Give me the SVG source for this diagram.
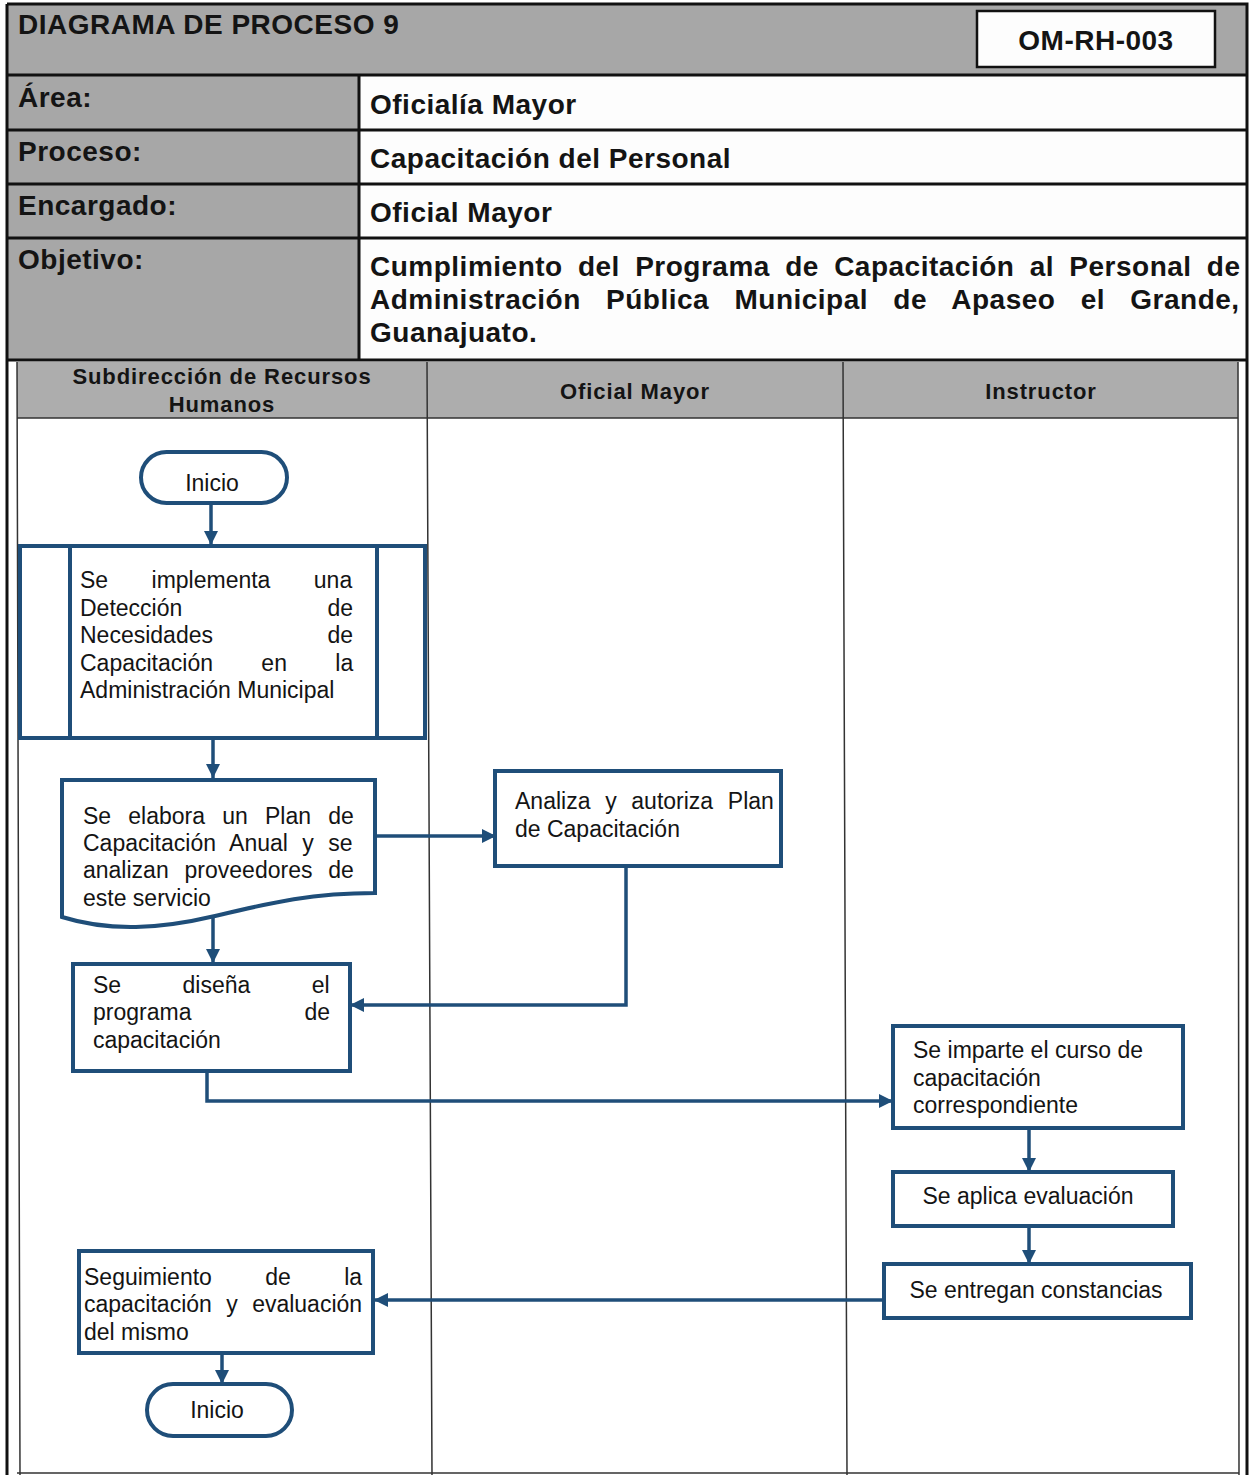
<svg xmlns="http://www.w3.org/2000/svg" width="1249" height="1475" viewBox="0 0 1249 1475">
  <style>
    .hdr { font-family: "Liberation Sans", Arial, sans-serif; font-weight: bold; font-size: 28px; letter-spacing: 0.5px; fill: #141414; }
    .lane { font-family: "Liberation Sans", Arial, sans-serif; font-weight: bold; font-size: 22px; letter-spacing: 0.9px; fill: #141414; text-anchor: middle; }
    .t { font-family: "Liberation Sans", Arial, sans-serif; font-size: 23px; fill: #141414; }
    .mid { text-anchor: middle; }
    .end { text-anchor: end; }
    .gray { fill: #a7a7a7; }
    .rule { stroke: #111; stroke-width: 3; fill: none; }
    .thin { stroke: #333; stroke-width: 1.5; fill: none; }
    .box { fill: #ffffff; stroke: #1f4e79; stroke-width: 4; }
    .conn { stroke: #1f4e79; stroke-width: 3.5; fill: none; }
  </style>
  <defs>
    <marker id="arrow" markerUnits="userSpaceOnUse" markerWidth="14" markerHeight="14" refX="14" refY="7" orient="auto">
      <path d="M0,0 L14,7 L0,14 Z" fill="#1f4e79"/>
    </marker>
  </defs>

  <rect x="0" y="0" width="1249" height="1475" fill="#ffffff"/>

  <!-- header table -->
  <g id="header">
    <rect class="gray" x="7" y="4" width="1240" height="71"/>
    <rect class="gray" x="7" y="75" width="352" height="285"/>
    <rect x="359" y="75" width="888" height="285" fill="#fdfdfd"/>
    <rect x="977" y="11" width="238" height="56" fill="#fdfdfd" stroke="#111" stroke-width="2.5"/>
    <text class="hdr" x="18" y="34">DIAGRAMA DE PROCESO 9</text>
    <text class="hdr mid" x="1096" y="50">OM-RH-003</text>
    <path class="rule" d="M7,4 H1247 V360 M7,4 V360 M7,75 H1247 M7,130 H1247 M7,184 H1247 M7,238 H1247 M7,360 H1247 M359,75 V360"/>
    <text class="hdr" x="18" y="107">Área:</text>
    <text class="hdr" x="18" y="161">Proceso:</text>
    <text class="hdr" x="18" y="215">Encargado:</text>
    <text class="hdr" x="18" y="269">Objetivo:</text>
    <text class="hdr" x="370" y="114">Oficialía Mayor</text>
    <text class="hdr" x="370" y="168">Capacitación del Personal</text>
    <text class="hdr" x="370" y="222">Oficial Mayor</text>
    <text class="hdr" x="370" y="276" style="word-spacing:7px">Cumplimiento del Programa de Capacitación al Personal de</text>
    <text class="hdr" x="370" y="309" style="word-spacing:17px">Administración Pública Municipal de Apaseo el Grande,</text>
    <text class="hdr" x="370" y="342">Guanajuato.</text>
  </g>

  <!-- swimlanes -->
  <g id="lanes">
    <rect x="17" y="362" width="1221" height="56" fill="#adadad"/>
    <path class="rule" d="M7,360 V1475 M1247,360 V1475"/>
    <path class="thin" d="M17,362 L20,1475 M1238,362 L1239,1475 M427,362 L432,1475 M843,362 L847,1475 M17,418 H1238 M17,1473 H1239"/>
    <text class="lane" x="222" y="384">Subdirección de Recursos</text>
    <text class="lane" x="222" y="412">Humanos</text>
    <text class="lane" x="635" y="399">Oficial Mayor</text>
    <text class="lane" x="1041" y="399">Instructor</text>
  </g>

  <!-- connectors -->
  <g id="connectors">
    <path class="conn" d="M211,503 V545" marker-end="url(#arrow)"/>
    <path class="conn" d="M213,738 V778" marker-end="url(#arrow)"/>
    <path class="conn" d="M375,836 H496" marker-end="url(#arrow)"/>
    <path class="conn" d="M626,866 V1005 H350" marker-end="url(#arrow)"/>
    <path class="conn" d="M213,918 V963" marker-end="url(#arrow)"/>
    <path class="conn" d="M207,1071 V1101 H893" marker-end="url(#arrow)"/>
    <path class="conn" d="M1029,1128 V1172" marker-end="url(#arrow)"/>
    <path class="conn" d="M1029,1226 V1264" marker-end="url(#arrow)"/>
    <path class="conn" d="M884,1300 H374" marker-end="url(#arrow)"/>
    <path class="conn" d="M222,1353 V1384" marker-end="url(#arrow)"/>
  </g>

  <!-- nodes -->
  <g id="inicio-start">
    <rect class="box" x="141" y="452" width="146" height="51" rx="25.5"/>
    <text class="t mid" x="212" y="491">Inicio</text>
  </g>

  <g id="deteccion">
    <rect class="box" x="20" y="546" width="405" height="192"/>
    <path d="M70,546 V738 M377,546 V738" stroke="#1f4e79" stroke-width="4"/>
    <text class="t" x="80" y="588" style="word-spacing:37px">Se implementa una</text>
    <text class="t" x="80" y="616">Detección</text>
    <text class="t end" x="353" y="616">de</text>
    <text class="t" x="80" y="643">Necesidades</text>
    <text class="t end" x="353" y="643">de</text>
    <text class="t" x="80" y="671" style="word-spacing:42px">Capacitación en la</text>
    <text class="t" x="80" y="698">Administración Municipal</text>
  </g>

  <g id="plan-anual">
    <path class="box" d="M62,780 H375 V893 C310,893 270,903 215,916 C160,929 110,932 62,917 Z"/>
    <text class="t" x="83" y="824" style="word-spacing:10.8px">Se elabora un Plan de</text>
    <text class="t" x="83" y="851" style="word-spacing:8px">Capacitación Anual y se</text>
    <text class="t" x="83" y="878" style="word-spacing:9.5px">analizan proveedores de</text>
    <text class="t" x="83" y="906">este servicio</text>
  </g>

  <g id="autoriza">
    <rect class="box" x="495" y="771" width="286" height="95"/>
    <text class="t" x="515" y="809" style="word-spacing:8.3px">Analiza y autoriza Plan</text>
    <text class="t" x="515" y="837">de Capacitación</text>
  </g>

  <g id="disena">
    <rect class="box" x="73" y="964" width="277" height="107"/>
    <text class="t" x="93" y="993" style="word-spacing:55px">Se diseña el</text>
    <text class="t" x="93" y="1020">programa</text>
    <text class="t end" x="330" y="1020">de</text>
    <text class="t" x="93" y="1048">capacitación</text>
  </g>

  <g id="imparte">
    <rect class="box" x="893" y="1026" width="290" height="102"/>
    <text class="t" x="913" y="1058">Se imparte el curso de</text>
    <text class="t" x="913" y="1086">capacitación</text>
    <text class="t" x="913" y="1113">correspondiente</text>
  </g>

  <g id="evaluacion">
    <rect class="box" x="893" y="1172" width="280" height="54"/>
    <text class="t mid" x="1028" y="1204">Se aplica evaluación</text>
  </g>

  <g id="constancias">
    <rect class="box" x="884" y="1264" width="307" height="54"/>
    <text class="t mid" x="1036" y="1298">Se entregan constancias</text>
  </g>

  <g id="seguimiento">
    <rect class="box" x="79" y="1251" width="294" height="102"/>
    <text class="t" x="84" y="1285" style="word-spacing:47px">Seguimiento de la</text>
    <text class="t" x="84" y="1312" style="word-spacing:8px">capacitación y evaluación</text>
    <text class="t" x="84" y="1340">del mismo</text>
  </g>

  <g id="inicio-end">
    <rect class="box" x="147" y="1384" width="145" height="52" rx="26"/>
    <text class="t mid" x="217" y="1418">Inicio</text>
  </g>
</svg>
